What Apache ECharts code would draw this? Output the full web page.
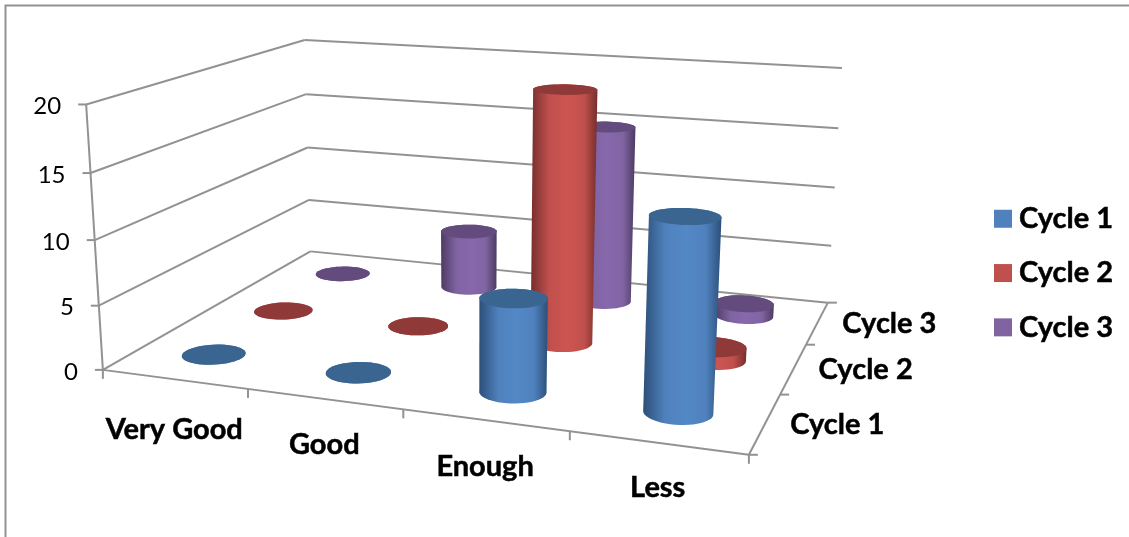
<!DOCTYPE html>
<html>
<head>
<meta charset="utf-8">
<title>Cycles</title>
<style>
html, body { margin: 0; padding: 0; background: #fff; }
#main { width: 1129px; height: 537px; }
</style>
<script src="https://cdn.jsdelivr.net/npm/echarts@6/dist/echarts.min.js"></script>
</head>
<body>
<div id="main"></div>
<script>
var categories = ['Very Good', 'Good', 'Enough', 'Less'];
var cycles = ['Cycle 1', 'Cycle 2', 'Cycle 3'];
var cycle1 = [0, 0, 7, 14];
var cycle2 = [0, 0, 20, 1];
var cycle3 = [0, 5, 15, 1];
var yTicks = [0, 5, 10, 15, 20];

var colors = ['#4f81bd', '#c0504d', '#8064a2'];
var edgeColors = ['#2c4f78', '#752e2c', '#4c3b62'];
var midColors = ['#5388c6', '#cd5551', '#8768ad'];
var topColors = ['#3b6591', '#8f3a38', '#634b7d'];
var lineColor = '#929292';
var labelFont = '"Lato", "Open Sans", sans-serif';
var categoryLabelDrop = [50, 46, 47, 45];

// where the corners of the 3d frame sit on the page: [x, value, depth, px, py]
var anchors = [
    [0, 0, 0, 103, 370], [0, 5, 0, 99, 305], [0, 10, 0, 95, 240], [0, 15, 0, 90, 173], [0, 20, 0, 86, 105],
    [0, 0, 3, 310, 252], [0, 5, 3, 309, 200], [0, 10, 3, 308, 147], [0, 15, 3, 306, 94], [0, 20, 3, 305, 40],
    [4, 0, 3, 828, 302], [4, 5, 3, 831, 246], [4, 10, 3, 835, 188], [4, 15, 3, 838, 128], [4, 20, 3, 842, 68],
    [4, 0, 0, 749, 455]
];

function solve(A, b) {
    var n = b.length;
    for (var i = 0; i < n; i++) {
        var p = i;
        for (var r = i + 1; r < n; r++) {
            if (Math.abs(A[r][i]) > Math.abs(A[p][i])) p = r;
        }
        var t = A[i]; A[i] = A[p]; A[p] = t;
        t = b[i]; b[i] = b[p]; b[p] = t;
        for (var r2 = i + 1; r2 < n; r2++) {
            var f = A[r2][i] / A[i][i];
            for (var c = i; c < n; c++) A[r2][c] -= f * A[i][c];
            b[r2] -= f * b[i];
        }
    }
    var out = [];
    for (var k = n - 1; k >= 0; k--) {
        var s = b[k];
        for (var j = k + 1; j < n; j++) s -= A[k][j] * out[j];
        out[k] = s / A[k][k];
    }
    return out;
}

// least squares camera matrix from the anchors
function fitCamera() {
    var N = [], rhs = [];
    for (var i = 0; i < 11; i++) {
        N.push([0, 0, 0, 0, 0, 0, 0, 0, 0, 0, 0]);
        rhs.push(0);
    }
    function add(row, val) {
        for (var i = 0; i < 11; i++) {
            for (var j = 0; j < 11; j++) N[i][j] += row[i] * row[j];
            rhs[i] += row[i] * val;
        }
    }
    anchors.forEach(function (a) {
        var x = a[0], y = a[1] / 4, z = a[2], u = a[3], v = a[4];
        add([x, y, z, 1, 0, 0, 0, 0, -u * x, -u * y, -u * z], u);
        add([0, 0, 0, 0, x, y, z, 1, -v * x, -v * y, -v * z], v);
    });
    return solve(N, rhs);
}
var cam = fitCamera();

function project(x, value, z) {
    var y = value / 4;
    var w = cam[8] * x + cam[9] * y + cam[10] * z + 1;
    return [
        (cam[0] * x + cam[1] * y + cam[2] * z + cam[3]) / w,
        (cam[4] * x + cam[5] * y + cam[6] * z + cam[7]) / w
    ];
}

function hull(pts) {
    var p = pts.slice().sort(function (a, b) { return a[0] - b[0] || a[1] - b[1]; });
    function cross(o, a, b) {
        return (a[0] - o[0]) * (b[1] - o[1]) - (a[1] - o[1]) * (b[0] - o[0]);
    }
    var lower = [], upper = [];
    p.forEach(function (q) {
        while (lower.length > 1 && cross(lower[lower.length - 2], lower[lower.length - 1], q) <= 0) lower.pop();
        lower.push(q);
    });
    p.reverse().forEach(function (q) {
        while (upper.length > 1 && cross(upper[upper.length - 2], upper[upper.length - 1], q) <= 0) upper.pop();
        upper.push(q);
    });
    return lower.slice(0, -1).concat(upper.slice(0, -1));
}

var radiusX = 0.2, radiusZ = 0.2;

function ring(x, value, z) {
    var pts = [];
    for (var i = 0; i < 48; i++) {
        var a = i / 48 * Math.PI * 2;
        pts.push(project(x + radiusX * Math.cos(a), value, z + radiusZ * Math.sin(a)));
    }
    return pts;
}

function renderCylinder(s) {
    return function (params, api) {
        var rect = params.coordSys;
        var pos = api.coord([api.value(0), api.value(1)]);
        var x = (pos[0] - rect.x) / rect.width * categories.length;
        var value = (rect.y + rect.height - pos[1]) / rect.height * yTicks[yTicks.length - 1];
        var z = s + 0.5;
        var base = ring(x, 0, z), top = ring(x, value, z);
        return {
            type: 'group',
            children: [{
                type: 'polygon',
                shape: { points: hull(base.concat(top)) },
                style: {
                    fill: {
                        type: 'linear', x: 0, y: 0, x2: 1, y2: 0,
                        colorStops: [
                            { offset: 0, color: edgeColors[s] },
                            { offset: 0.28, color: colors[s] },
                            { offset: 0.55, color: midColors[s] },
                            { offset: 0.8, color: colors[s] },
                            { offset: 1, color: edgeColors[s] }
                        ]
                    }
                }
            }, {
                type: 'polygon',
                shape: { points: top },
                style: { fill: topColors[s] }
            }]
        };
    };
}

function line(a, b) {
    return {
        type: 'line',
        shape: { x1: a[0], y1: a[1], x2: b[0], y2: b[1] },
        style: { stroke: lineColor, lineWidth: 2 }
    };
}

function text(str, x, y, align, bold) {
    return {
        type: 'text',
        style: {
            text: str, x: x, y: y, align: align, verticalAlign: 'middle',
            fill: '#000', fontFamily: labelFont, fontSize: bold ? 29 : 24,
            fontWeight: bold ? 'bold' : 'normal',
            stroke: bold ? '#000' : null, lineWidth: bold ? 0.5 : 0
        }
    };
}

function renderFrame() {
    var nx = categories.length, nz = cycles.length, i;
    var top = yTicks[yTicks.length - 1];
    var kids = [];
    yTicks.forEach(function (v) {
        var a = project(0, v, 0), b = project(0, v, nz), c = project(nx, v, nz);
        kids.push(line(a, b), line(b, c), line([a[0] - 8, a[1]], a));
        kids.push(text(String(v), a[0] - 25, a[1] + 2, 'right', false));
    });
    kids.push(line(project(0, 0, 0), project(0, top, 0)));
    kids.push(line(project(0, 0, 0), project(nx, 0, 0)));
    kids.push(line(project(nx, 0, 0), project(nx, 0, nz)));
    for (i = 0; i <= nx; i++) {
        var p = project(i, 0, 0);
        kids.push(line(p, [p[0], p[1] + 9]));
    }
    for (i = 0; i <= nz; i++) {
        var q = project(nx, 0, i);
        kids.push(line(q, [q[0] + 9, q[1]]));
    }
    categories.forEach(function (name, k) {
        var m = project(k + 0.5, 0, 0);
        kids.push(text(name, m[0], m[1] + categoryLabelDrop[k], 'center', true));
    });
    cycles.forEach(function (name, k) {
        var m = project(nx, 0, k + 0.5);
        kids.push(text(name, m[0] + 72, m[1] + 1, 'center', true));
    });
    return { type: 'group', children: kids };
}

var seriesValues = [cycle1, cycle2, cycle3];
var series = [{
    name: 'frame',
    type: 'custom',
    renderItem: renderFrame,
    data: [[0, 0]],
    z: 1,
    silent: true
}];
// back row first so nearer cylinders cover the ones behind
for (var s = cycles.length - 1; s >= 0; s--) {
    series.push({
        name: cycles[s],
        type: 'custom',
        renderItem: renderCylinder(s),
        encode: { x: 0, y: 1 },
        itemStyle: { color: colors[s] },
        data: seriesValues[s].map(function (v, i) { return [i, v]; }),
        z: 5 - s
    });
}

var myChart = echarts.init(document.getElementById('main'));
var option = {
    animation: false,
    backgroundColor: '#fff',
    grid: { left: 100, right: 300, top: 100, bottom: 100 },
    xAxis: { type: 'category', data: categories, show: false },
    yAxis: { type: 'value', min: 0, max: 20, interval: 5, show: false },
    legend: {
        orient: 'vertical',
        left: 994,
        top: 204,
        padding: 0,
        itemWidth: 18,
        itemHeight: 18,
        itemGap: 24.8,
        icon: 'rect',
        selectedMode: false,
        data: cycles,
        textStyle: {
            fontFamily: labelFont,
            fontWeight: 'bold',
            fontSize: 29,
            lineHeight: 28,
            color: '#000',
            textBorderColor: '#000',
            textBorderWidth: 0.5,
            padding: [0, 0, 0, 2]
        }
    },
    graphic: [{
        type: 'polyline',
        shape: { points: [[5.5, 537], [5.5, 5.5], [1129, 5.5]] },
        style: { stroke: '#929292', lineWidth: 2, fill: 'none' }
    }],
    series: series
};
myChart.setOption(option);
</script>
</body>
</html>
